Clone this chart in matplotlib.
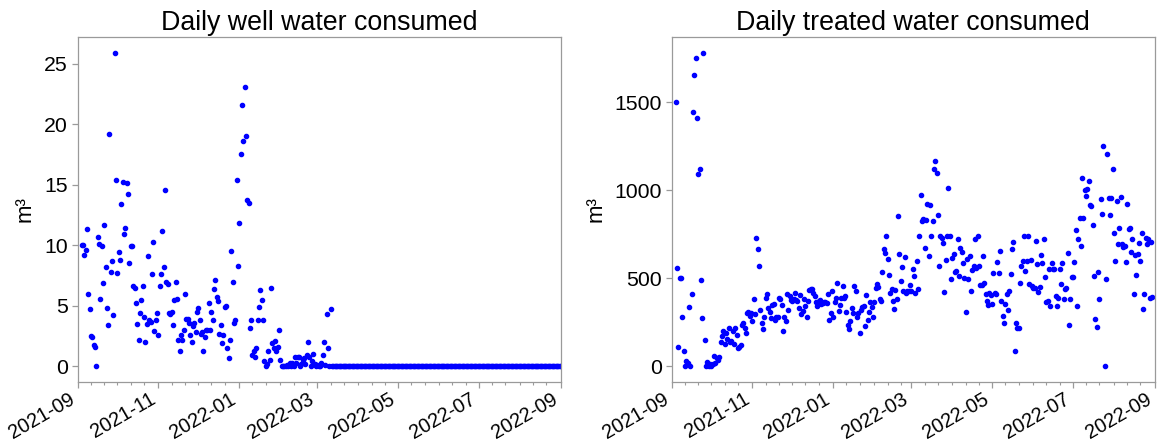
import matplotlib
matplotlib.use("Agg")
import matplotlib.pyplot as plt
import matplotlib.dates as mdates
from matplotlib.ticker import MultipleLocator
import pandas as pd

plt.rcParams["font.family"] = ["Liberation Sans", "DejaVu Sans"]

# Daily well water use (m³), starting 2021-09-04; the pump is idle from mid-March on
well_start = "2021-09-04"
well_values = [
    10.0, 10.0, 9.2, 9.6, 11.3, 6.0, 4.7, 2.5, 2.4, 1.8, 1.6, 0.0, 10.7, 10.1, 5.6, 9.9,
    6.9, 11.7, 8.2, 4.8, 3.4, 19.2, 7.8, 8.7, 4.2, 25.9,
    15.4, 7.7, 9.4, 8.8, 13.4, 15.2, 10.9, 11.4, 15.1, 14.2, 8.5, 9.9, 9.9, 6.6, 6.5,
    5.2, 3.5, 2.2, 4.4, 5.5, 6.6, 4.1, 2.0, 3.5, 9.1, 3.8, 3.7, 7.6, 10.3,
    2.9, 3.8, 4.4, 2.6, 6.6, 7.6, 11.2, 8.2, 14.6, 7.0, 6.8, 4.4, 4.3, 4.5, 3.4, 5.5, 7.0, 5.6,
    2.2, 1.3, 2.6, 2.2, 3.0, 6.0, 3.9, 3.9, 3.6, 2.6, 2.0, 3.3, 3.6, 2.8, 4.5, 4.8, 3.8,
    2.7, 2.8, 1.3, 2.4, 3.0, 3.0, 5.2, 3.0,
    4.5, 3.8, 6.4, 7.1, 5.7, 5.4, 2.7, 3.4, 1.9, 2.6, 4.9, 5.0, 1.5, 0.7, 2.2, 9.5, 7.0,
    3.6, 3.8, 15.4, 8.3, 11.8,
    17.5, 21.6, 18.6, 23.1, 19.0, 13.7, 13.5,
    3.2, 3.8, 0.9, 1.3, 0.8, 1.5, 3.8, 4.9, 6.3, 5.5, 3.8, 0.4, 0.0, 0.2, 1.3, 0.5, 6.5,
    1.9, 1.5, 2.1, 1.3, 1.6, 3.0, 0.5, 0.0, 0.0, 0.0, 0.0, 0.1, 0.0, 0.3, 0.0, 0.3, 0.0,
    0.8, 0.3, 0.8, 0.8, 0.0, 0.2, 0.5, 0.7, 0.2, 0.9, 2.0, 0.8, 0.0, 0.4, 1.0, 0.2, 0.0,
    0.1, 0.0, 0.0, 0.3, 0.9, 2.0, 0.1, 4.3, 1.5, 0.0, 4.7, 0.0,
]
well_idle_end = "2022-09-01"

# Daily treated water use (m³), starting 2021-09-04
treated_start = "2021-09-04"
treated_values = [
    1502, 557, 112, 499, 503, 280, 85, 0, 30, 21, 336, 0, 410, 1445, 1653, 1749, 1409,
    1092, 1120, 489, 274, 1780, 149, 2, 25, 2, 13, 2, 13, 59, 21, 49, 36, 53, 138, 172,
    200, 125, 187, 153, 219, 140, 144, 200, 125, 219, 178, 102, 112, 119, 232, 247, 219,
    191, 304,
    308, 285, 304, 257, 384, 295, 726, 665, 567, 319, 244, 210, 282, 389, 410, 329, 310,
    274, 350, 352, 261, 282, 282, 387, 380, 346, 202, 278, 255, 410, 319, 399, 374, 369,
    380, 418, 378, 370, 331, 403, 295, 316, 384, 342, 278, 372, 433, 437, 440, 418, 399,
    363, 342, 372, 376, 355, 361, 365, 367, 361, 408, 261, 304, 429, 278, 365, 389, 471,
    314, 350, 389, 455, 386, 399, 308, 234, 214, 257, 331, 304, 455, 429, 282, 304, 191,
    319, 338, 342, 229, 403, 263, 310, 365, 338, 278, 365, 442, 465, 448, 384, 369, 535,
    665, 644, 739, 610, 518, 418, 440, 372, 327, 433, 380, 852, 637, 484, 565, 427, 622,
    418, 427, 425, 459, 427, 554, 512, 418, 595, 440, 742, 973, 824, 837, 673, 833, 920,
    626, 916, 742, 827, 1120, 1164,
    1097, 856, 572, 742, 727, 701, 419, 603, 739, 1014, 742, 493, 616, 638, 535, 540, 720,
    512, 673, 646, 588, 500, 308, 610, 493, 625, 427, 546, 568, 720, 559, 739, 568, 461,
    461, 625, 474, 412, 370, 349, 418, 403, 351, 531, 418, 408, 591, 531, 652, 370, 285,
    244, 351, 410, 319, 427, 523, 667, 704, 85, 244, 219, 215, 474, 568, 597, 742, 540,
    597, 742, 468, 601, 455, 446, 446, 712, 578, 423, 448, 631, 588, 725, 506, 365, 370,
    550, 342, 588, 550, 550, 399, 342, 386, 550, 468, 588, 380, 436, 446, 644, 232, 384,
    508, 506, 591, 773, 342, 725, 842, 682, 1067, 842, 1003, 965, 1007, 1054, 918, 912,
    803, 512, 266, 225, 535, 380, 952, 863, 1249, 0, 497, 1205, 954, 859, 958, 1120, 754,
    595, 937, 697, 786, 959, 697, 678, 682, 591, 923, 780, 786, 648, 723, 408, 629, 519,
    635, 701, 597, 757, 323, 412, 731, 695, 720, 387, 705, 396,
]

titles = ["Daily well water consumed", "Daily treated water consumed"]
y_label = "m³"
x_range = ("2021-09-01", "2022-09-01")
y_steps = [5, 500]

# Assemble the two daily series
well_dates = pd.date_range(well_start, periods=len(well_values), freq="D")
idle_dates = pd.date_range(well_dates[-1] + pd.Timedelta(days=1), well_idle_end, freq="D")
well = pd.Series(list(well_values) + [0.0] * len(idle_dates),
                 index=well_dates.append(idle_dates))
treated = pd.Series(treated_values,
                    index=pd.date_range(treated_start, periods=len(treated_values), freq="D"))

W, H = 1165, 445
fig = plt.figure(figsize=(W / 100, H / 100), dpi=100)
boxes = [
    (77.7 / W, 1 - 382 / H, (561 - 77.7) / W, (382 - 37) / H),
    (671.7 / W, 1 - 382 / H, (1155 - 671.7) / W, (382 - 37) / H),
]

spine_grey = "#9a9a9a"
for box, series, title, step in zip(boxes, [well, treated], titles, y_steps):
    ax = fig.add_axes(box)
    ax.plot(series.index, series.values, ".", color="#0000ff", markersize=6)
    ax.set_xlim(pd.Timestamp(x_range[0]), pd.Timestamp(x_range[1]))
    ax.yaxis.set_major_locator(MultipleLocator(step))
    ax.set_title(title, fontsize=19.3, pad=5)
    ax.set_ylabel(y_label, fontsize=16, labelpad=6)
    ax.xaxis.set_major_locator(mdates.MonthLocator(bymonth=[1, 3, 5, 7, 9, 11]))
    ax.xaxis.set_major_formatter(mdates.DateFormatter("%Y-%m"))
    ax.xaxis.set_minor_locator(mdates.DayLocator(bymonthday=[1, 11, 21]))
    for spine in ax.spines.values():
        spine.set_color(spine_grey)
        spine.set_linewidth(0.9)
    ax.tick_params(axis="y", which="major", labelsize=15.3, color=spine_grey,
                   length=4, width=0.9, pad=3)
    ax.tick_params(axis="x", which="major", labelsize=14.3, color=spine_grey,
                   length=4, width=0.9, pad=1.5)
    ax.tick_params(axis="x", which="minor", color=spine_grey, length=2.5, width=0.8)
    for lbl in ax.get_xticklabels():
        lbl.set_rotation(30)
        lbl.set_ha("right")

fig.savefig("out.png", dpi=100)
